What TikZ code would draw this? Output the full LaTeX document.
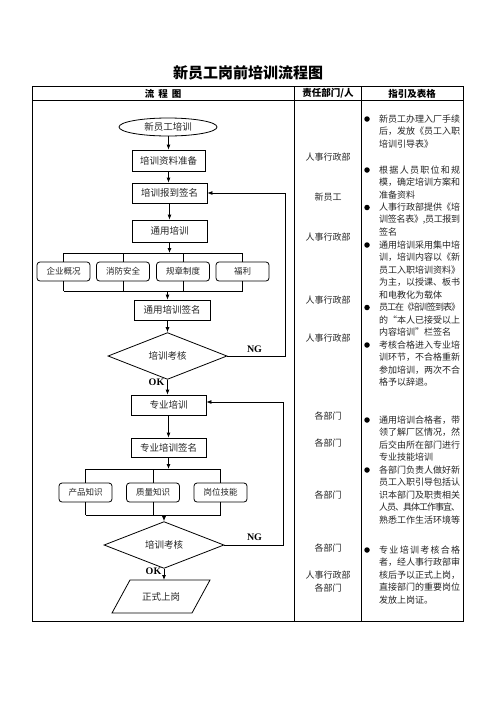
\documentclass[tikz,border=0pt]{standalone}
\usepackage{fontspec}
\setmainfont{Noto Sans CJK SC}
\newfontfamily\lat{Liberation Serif}
\usetikzlibrary{shapes.geometric,arrows.meta}
\makeatletter
\def\jl@x#1{\ifx\relax#1\else\hskip 0pt plus 1fil minus 1pt #1\expandafter\jl@x\fi}
\def\jl@y#1{#1\jl@x}
\newcommand\jline[1]{\hbox to 81pt{\jl@y#1\relax}}
\newcommand\lline[1]{\hbox to 81pt{#1\hfil}}
\makeatother
\begin{document}
\begin{tikzpicture}[x=1pt,y=-1pt,
  every node/.style={inner sep=0pt, text=black!85},
  ln/.style={line width=0.8pt, draw=black},
  arr/.style={ln, -{Latex[length=5pt,width=4pt]}},
  box/.style={draw=black, line width=0.8pt, rectangle, minimum width=75pt, minimum height=21pt, font=\fontsize{9.5}{11}\selectfont},
  rbox/.style={draw=black, line width=0.8pt, rounded corners=3pt, minimum width=53pt, minimum height=19pt, font=\fontsize{8.5}{10}\selectfont},
  dia/.style={draw=black, line width=0.8pt, diamond, minimum width=119pt, minimum height=32pt, font=\fontsize{9.5}{11}\selectfont},
  hdr/.style={font=\fontsize{9.5}{11}\selectfont\bfseries, text=black},
  dept/.style={font=\fontsize{9}{11}\selectfont},
  gtxt/.style={anchor=west, font=\fontsize{9}{11}\selectfont},
  bul/.style={circle, fill=black, minimum size=5.5pt},
  lab/.style={font=\lat\fontsize{10}{12}\selectfont\bfseries, text=black},
  tbl/.style={line width=1pt, draw=black}
]
\useasboundingbox[fill=white] (0,0) rectangle (496,702);

% title
\node[font=\fontsize{15}{17}\selectfont\bfseries, text=black] (title) at (248,72.5) {新员工岗前培训流程图};

% table
\draw[tbl] (32.3,86.3) rectangle (463.3,621);
\draw[tbl] (32.3,100.5) -- (463.3,100.5);
\draw[tbl] (294,86.3) -- (294,621);
\draw[tbl] (361,86.3) -- (361,621);
\node[hdr] (h1) at (163,93.5) {流\hspace{4pt}程\hspace{4pt}图};
\node[hdr] (h2) at (328,93.5) {责任部门/人};
\node[hdr] (h3) at (412,93.5) {指引及表格};

% flowchart nodes
\node[draw=black, line width=0.8pt, ellipse, minimum width=98pt, minimum height=18pt, font=\fontsize{9.5}{11}\selectfont] (e0) at (168,127) {新员工培训};
\node[box, minimum width=73pt] (b1) at (168.5,160.5) {培训资料准备};
\node[box, minimum height=20pt] (b2) at (169.5,193) {培训报到签名};
\node[box, minimum height=22pt] (b3) at (169.5,231) {通用培训};
\node[rbox] (r1) at (63.5,271.5) {企业概况};
\node[rbox] (r2) at (123,271.5) {消防安全};
\node[rbox] (r3) at (183,271.5) {规章制度};
\node[rbox] (r4) at (242.5,271.5) {福利};
\node[box, minimum width=76pt, minimum height=20pt] (b4) at (172,310) {通用培训签名};
\node[dia] (d1) at (167.5,356) {培训考核};
\node[box, minimum height=20pt] (b5) at (168.5,405) {专业培训};
\node[box, minimum height=19pt] (b6) at (168.5,447.5) {专业培训签名};
\node[rbox] (p1) at (85.5,492.5) {产品知识};
\node[rbox] (p2) at (153,492.5) {质量知识};
\node[rbox] (p3) at (220.5,492.5) {岗位技能};
\node[dia, minimum width=120pt] (d2) at (164,545) {培训考核};
\node[font=\fontsize{9.5}{11}\selectfont] (f) at (161,596.5) {正式上岗};
\draw[ln, shift={(f.center)}] (-31,-16.5) -- (49,-16.5) -- (31,16.5) -- (-49,16.5) -- cycle;
\coordinate (ftop) at (161,580);

% connectors
\draw[arr] (b1.north |- e0.south) -- (b1.north);
\draw[arr] (b1.south) -- (b1.south |- b2.north);
\draw[arr] (b2.south) -- (b2.south |- b3.north);
\coordinate (bus1) at (169.5,253);
\draw[arr] (b3.south) -- (bus1);
\draw[ln] (r1.north |- bus1) -- (r4.north |- bus1);
\foreach \n in {r1,r2,r3,r4} \draw[ln] (\n.north) -- (\n.north |- bus1);
\coordinate (bus2) at (167.5,291);
\foreach \n in {r1,r2,r3,r4} \draw[ln] (\n.south) -- (\n.south |- bus2);
\draw[ln] (r1.south |- bus2) -- (r4.south |- bus2);
\draw[arr] (bus2) -- (bus2 |- b4.north);
\draw[arr] (d1.north |- b4.south) -- (d1.north);
\coordinate (ng1) at (285,356);
\draw[arr] (d1.east) -- (ng1) -- (ng1 |- b2.east) -- (b2.east);
\node[lab] (ngl1) at (254.5,349.5) {NG};
\draw[arr] (d1.south) -- (d1.south |- b5.north);
\node[lab] (okl1) at (156.5,382) {OK};
\draw[arr] (b5.south) -- (b5.south |- b6.north);
\coordinate (bus3) at (168.5,469);
\draw[arr] (b6.south) -- (bus3);
\draw[ln] (p1.north |- bus3) -- (p3.north |- bus3);
\foreach \n in {p1,p2,p3} \draw[ln] (\n.north) -- (\n.north |- bus3);
\coordinate (bus4) at (164,515);
\foreach \n in {p1,p2,p3} \draw[ln] (\n.south) -- (\n.south |- bus4);
\draw[ln] (p1.south |- bus4) -- (p3.south |- bus4);
\draw[arr] (bus4) -- (d2.north);
\coordinate (ng2) at (283,545);
\draw[arr] (d2.east) -- (ng2) -- (ng2 |- 0,402) -- (b5.east |- 0,402);
\node[lab] (ngl2) at (254.5,537) {NG};
\draw[arr] (d2.south) -- (d2.south |- ftop);
\node[lab] (okl2) at (153.5,571) {OK};

% responsible departments
\node[dept] (c1) at (328,157) {人事行政部};
\node[dept] (c2) at (328,197) {新员工};
\node[dept] (c3) at (328,237) {人事行政部};
\node[dept] (c4) at (328,300) {人事行政部};
\node[dept] (c5) at (328,338) {人事行政部};
\node[dept] (c6) at (328,416) {各部门};
\node[dept] (c7) at (328,443) {各部门};
\node[dept] (c8) at (328,495) {各部门};
\node[dept] (c9) at (328,548) {各部门};
\node[dept] (c10) at (328,575) {人事行政部};
\node[dept] (c11) at (328,588) {各部门};

% guidance
\node[bul] (u1) at (367,119) {};
\node[gtxt] (g1a) at (379,119) {\jline{新员工办理入厂手续}};
\node[gtxt] (g1b) at (379,131.5) {\jline{后，发放《员工入职}};
\node[gtxt] (g1c) at (379,144) {\lline{培训引导表》}};
\node[bul] (u2) at (367,170) {};
\node[gtxt] (g2a) at (379,170) {\jline{根据人员职位和规}};
\node[gtxt] (g2b) at (379,182.5) {\jline{模，确定培训方案和}};
\node[gtxt] (g2c) at (379,195) {\lline{准备资料}};
\node[bul] (u3) at (367,207.5) {};
\node[gtxt] (g3a) at (379,207.5) {\jline{人事行政部提供《培}};
\node[gtxt] (g3b) at (379,220) {\jline{训签名表》,员工报到}};
\node[gtxt] (g3c) at (379,232.5) {\lline{签名}};
\node[bul] (u4) at (367,245) {};
\node[gtxt] (g4a) at (379,245) {\jline{通用培训采用集中培}};
\node[gtxt] (g4b) at (379,257.5) {\jline{训，培训内容以《新}};
\node[gtxt] (g4c) at (379,270) {\jline{员工入职培训资料》}};
\node[gtxt] (g4d) at (379,282.5) {\jline{为主，以授课、板书}};
\node[gtxt] (g4e) at (379,295) {\lline{和电教化为载体}};
\node[bul] (u5) at (367,307.5) {};
\node[gtxt] (g5a) at (379,307.5) {\jline{员工在《培训签到表》}};
\node[gtxt] (g5b) at (379,320) {\jline{的“本人已接受以上}};
\node[gtxt] (g5c) at (379,332.5) {\lline{内容培训”栏签名}};
\node[bul] (u6) at (367,345) {};
\node[gtxt] (g6a) at (379,345) {\jline{考核合格进入专业培}};
\node[gtxt] (g6b) at (379,357.5) {\jline{训环节，不合格重新}};
\node[gtxt] (g6c) at (379,370) {\jline{参加培训，两次不合}};
\node[gtxt] (g6d) at (379,382.5) {\lline{格予以辞退。}};
\node[bul] (u7) at (367,420) {};
\node[gtxt] (g7a) at (379,420) {\jline{通用培训合格者，带}};
\node[gtxt] (g7b) at (379,432.5) {\jline{领了解厂区情况，然}};
\node[gtxt] (g7c) at (379,445) {\jline{后交由所在部门进行}};
\node[gtxt] (g7d) at (379,457.5) {\lline{专业技能培训}};
\node[bul] (u8) at (367,470) {};
\node[gtxt] (g8a) at (379,470) {\jline{各部门负责人做好新}};
\node[gtxt] (g8b) at (379,482.5) {\jline{员工入职引导包括认}};
\node[gtxt] (g8c) at (379,495) {\jline{识本部门及职责相关}};
\node[gtxt] (g8d) at (379,507.5) {\jline{人员、具体工作事宜、}};
\node[gtxt] (g8e) at (379,520) {\jline{熟悉工作生活环境等}};
\node[bul] (u9) at (367,550) {};
\node[gtxt] (g9a) at (379,550) {\jline{专业培训考核合格}};
\node[gtxt] (g9b) at (379,562.5) {\jline{者，经人事行政部审}};
\node[gtxt] (g9c) at (379,575) {\jline{核后予以正式上岗，}};
\node[gtxt] (g9d) at (379,587.5) {\jline{直接部门的重要岗位}};
\node[gtxt] (g9e) at (379,600) {\lline{发放上岗证。}};
\end{tikzpicture}
\end{document}
